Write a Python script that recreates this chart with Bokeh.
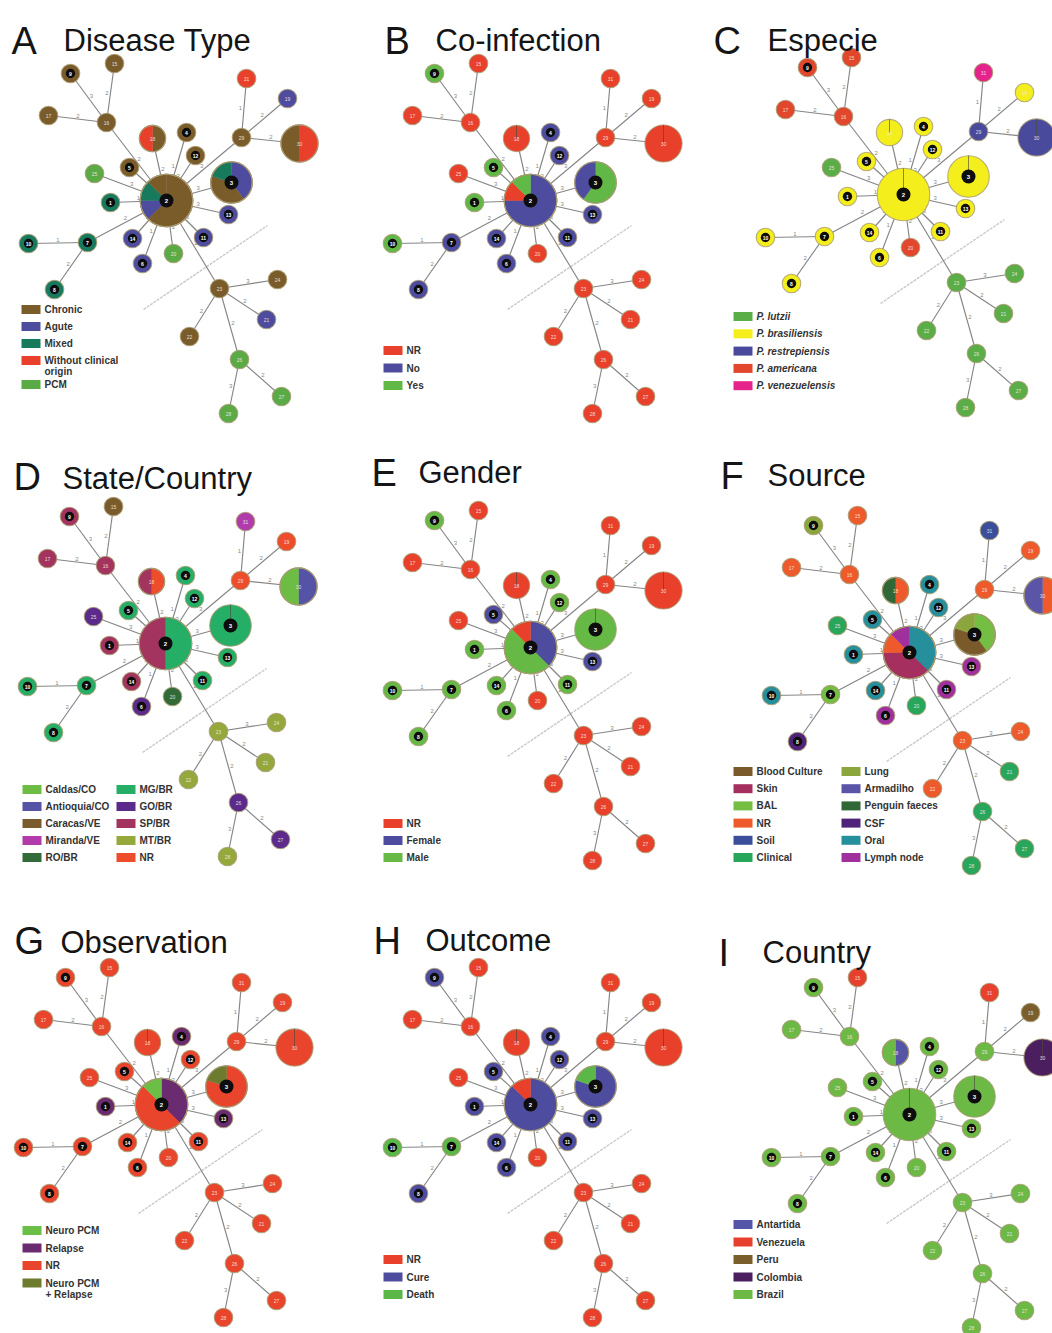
import math

from bokeh.core.properties import value
from bokeh.embed import file_html
from bokeh.models import ColumnDataSource, Range1d
from bokeh.plotting import figure
from bokeh.resources import INLINE

W, H = 1052, 1333
FONT = "Liberation Sans"

# ---------------------------------------------------------------------------
# Haplotype network shared by every panel
# ---------------------------------------------------------------------------
haplotypes = [1, 2, 3, 4, 5, 6, 7, 8, 9, 10, 11, 12, 13, 14, 15, 16,
              17, 18, 19, 20, 21, 22, 23, 24, 25, 26, 27, 28, 29, 30, 31]
# number of isolates carrying each haplotype (node area follows it)
sample_counts = [1, 8, 5, 1, 1, 1, 1, 1, 1, 1, 1, 1, 1, 1, 1, 1,
                 1, 2, 1, 1, 1, 1, 1, 1, 1, 1, 1, 1, 1, 4, 1]
# haplotypes 1-14 carry the dark centre marker
marked_haplotypes = [1, 2, 3, 4, 5, 6, 7, 8, 9, 10, 11, 12, 13, 14]

edge_from = [2, 2, 16, 16, 16, 2, 2, 2, 2, 2, 2, 2, 29, 29, 29,
             2, 2, 2, 2, 2, 2, 7, 7, 2, 23, 23, 23, 23, 26, 26]
edge_to = [3, 16, 9, 15, 17, 18, 4, 12, 5, 25, 1, 29, 31, 19, 30,
           13, 11, 14, 6, 20, 7, 10, 8, 23, 24, 21, 22, 26, 27, 28]
edge_steps = [3, 2, 3, 2, 2, 2, 1, 3, 2, 3, 1, 3, 1, 2, 2,
              3, 3, 1, 1, 2, 2, 1, 2, 2, 3, 2, 2, 2, 2, 3]

# Network layout: node offsets (px) from the central haplotype, y downwards
layout_dx = [-56, 0, 65, 20, -37, -24, -79, -112, -96, -138, 37, 29, 62, -34, -52, -60,
             -118, -14, 121, 7, 100, 23, 53, 111, -72, 73, 115, 62, 75, 133, 80]
layout_dy = [2, 0, -18, -68, -33, 63, 42, 89, -127, 43, 37, -45, 14, 38, -137, -78,
             -85, -62, -102, 53, 119, 136, 88, 79, -27, 159, 196, 213, -63, -57, -122]
divider_offsets = ((-23, 109), (101, 25))
NODE_R = 9.3

# ---------------------------------------------------------------------------
# Attributes per panel: categories, colours and per-haplotype composition
# (a string = every isolate in that category; a list = pie slices, clockwise)
# ---------------------------------------------------------------------------
disease_labels = ["Chronic", "Agute", "Mixed", "Without clinical origin", "PCM"]
disease_colors = ["#7a5c2b", "#4e4c9e", "#187a5c", "#e8402b", "#5aaa45"]
disease_nodes = [
    "Mixed", [("Chronic", 5), ("Agute", 1), ("Mixed", 1), ("Chronic", 1)],
    [("Agute", 2), ("Chronic", 2), ("Mixed", 1)], "Chronic", "Chronic", "Agute",
    "Mixed", "Mixed", "Chronic", "Mixed", "Agute", "Chronic", "Agute", "Agute",
    "Chronic", "Chronic", "Chronic", [("Chronic", 1), ("Without clinical origin", 1)],
    "Agute", "PCM", "Agute", "Chronic", "Chronic", "Chronic", "PCM", "PCM", "PCM",
    "PCM", "Chronic", [("Without clinical origin", 2), ("Chronic", 2)],
    "Without clinical origin",
]

coinf_labels = ["NR", "No", "Yes"]
coinf_colors = ["#e8402b", "#4e4c9e", "#62b846"]
coinf_nodes = [
    "Yes", [("No", 6), ("NR", 1), ("Yes", 1)], [("Yes", 3), ("No", 2)], "No", "Yes",
    "No", "No", "No", "Yes", "Yes", "No", "No", "No", "No", "NR", "NR", "NR", "NR",
    "NR", "NR", "NR", "NR", "NR", "NR", "NR", "NR", "NR", "NR", "NR", "NR", "NR",
]

species_labels = ["P. lutzii", "P. brasiliensis", "P. restrepiensis",
                  "P. americana", "P. venezuelensis"]
species_colors = ["#5aad47", "#f4ee1c", "#4a4a9c", "#e2462d", "#e5238b"]
species_nodes = [
    "P. brasiliensis", "P. brasiliensis", "P. brasiliensis", "P. brasiliensis",
    "P. brasiliensis", "P. brasiliensis", "P. brasiliensis", "P. brasiliensis",
    "P. americana", "P. brasiliensis", "P. brasiliensis", "P. brasiliensis",
    "P. brasiliensis", "P. brasiliensis", "P. americana", "P. americana",
    "P. americana", "P. brasiliensis", "P. brasiliensis", "P. americana",
    "P. lutzii", "P. lutzii", "P. lutzii", "P. lutzii", "P. lutzii", "P. lutzii",
    "P. lutzii", "P. lutzii", "P. restrepiensis", "P. restrepiensis",
    "P. venezuelensis",
]

state_labels = ["Caldas/CO", "Antioquia/CO", "Caracas/VE", "Miranda/VE", "RO/BR",
                "MG/BR", "GO/BR", "SP/BR", "MT/BR", "NR"]
state_colors = ["#6dbd45", "#5553a5", "#7a5c2c", "#b23bab", "#336b38",
                "#25ae66", "#5b2a8a", "#a3335f", "#94a83c", "#ee4d2c"]
state_nodes = [
    "SP/BR", [("MG/BR", 4), ("SP/BR", 4)], "MG/BR", "MG/BR", "MG/BR", "GO/BR",
    "MG/BR", "MG/BR", "SP/BR", "MG/BR", "MG/BR", "MG/BR", "MG/BR", "SP/BR",
    "Caracas/VE", "SP/BR", "SP/BR", [("NR", 1), ("SP/BR", 1)], "NR", "RO/BR",
    "MT/BR", "MT/BR", "MT/BR", "MT/BR", "GO/BR", "GO/BR", "GO/BR", "MT/BR", "NR",
    [("Antioquia/CO", 2), ("Caldas/CO", 2)], "Miranda/VE",
]

gender_labels = ["NR", "Female", "Male"]
gender_colors = ["#e8402b", "#4e4c9e", "#67b946"]
gender_nodes = [
    "Male", [("Female", 3), ("Male", 4), ("NR", 1)], "Male", "Male", "Female", "Male",
    "Male", "Male", "Male", "Male", "Male", "Male", "Female", "Male", "NR", "NR",
    "NR", "NR", "NR", "NR", "NR", "NR", "NR", "NR", "NR", "NR", "NR", "NR", "NR",
    "NR", "NR",
]

source_labels = ["Blood Culture", "Skin", "BAL", "NR", "Soil", "Clinical",
                 "Lung", "Armadilho", "Penguin faeces", "CSF", "Oral", "Lymph node"]
source_colors = ["#7a5a2b", "#a5305f", "#74be44", "#ee5a2c", "#3b4e9c", "#27a65c",
                 "#8aa63c", "#5a55a6", "#2f6836", "#4e2379", "#268f9c", "#a0309d"]
source_nodes = [
    "Oral", [("Oral", 3), ("Skin", 3), ("NR", 1), ("Lymph node", 1)],
    [("BAL", 2), ("Blood Culture", 2), ("Lung", 1)], "Oral", "Oral", "Lymph node",
    "BAL", "CSF", "Lung", "Oral", "Lymph node", "Oral", "Lymph node", "Oral",
    "NR", "NR", "NR", [("NR", 1), ("Penguin faeces", 1)], "NR", "Clinical",
    "Clinical", "NR", "NR", "NR", "Clinical", "Clinical", "Clinical", "Clinical",
    "NR", [("NR", 2), ("Armadilho", 2)], "Soil",
]

observation_labels = ["Neuro PCM", "Relapse", "NR", "Neuro PCM + Relapse"]
observation_colors = ["#6bbf46", "#6a2b70", "#e8452c", "#6d7b2e"]
observation_nodes = [
    "Relapse", [("Relapse", 3), ("NR", 4), ("Neuro PCM", 1)],
    [("NR", 4), ("Neuro PCM + Relapse", 1)], "Relapse", "NR", "NR", "NR", "NR",
    "NR", "NR", "NR", "NR", "Relapse", "NR", "NR", "NR", "NR", "NR", "NR", "NR",
    "NR", "NR", "NR", "NR", "NR", "NR", "NR", "NR", "NR", "NR", "NR",
]

outcome_labels = ["NR", "Cure", "Death"]
outcome_colors = ["#e8402b", "#4e4c9e", "#5bb848"]
outcome_nodes = [
    "Cure", [("Cure", 7), ("NR", 1)], [("Cure", 4), ("Death", 1)], "Cure", "Cure",
    "Cure", "Death", "Cure", "Cure", "Death", "Cure", "Cure", "Cure", "Cure",
    "NR", "NR", "NR", "NR", "NR", "NR", "NR", "NR", "NR", "NR", "NR", "NR", "NR",
    "NR", "NR", "NR", "NR",
]

country_labels = ["Antartida", "Venezuela", "Peru", "Colombia", "Brazil"]
country_colors = ["#5555a8", "#e8402e", "#7a5f2c", "#4b1f5f", "#6cb946"]
country_nodes = [
    "Brazil", "Brazil", "Brazil", "Brazil", "Brazil", "Brazil", "Brazil", "Brazil",
    "Brazil", "Brazil", "Brazil", "Brazil", "Brazil", "Brazil", "Venezuela",
    "Brazil", "Brazil", [("Antartida", 1), ("Brazil", 1)], "Peru", "Brazil",
    "Brazil", "Brazil", "Brazil", "Brazil", "Brazil", "Brazil", "Brazil", "Brazil",
    "Brazil", "Colombia", "Venezuela",
]

# long legend entries broken over two lines
legend_wrap = {
    "Without clinical origin": ["Without clinical", " origin"],
    "Neuro PCM + Relapse": ["Neuro PCM", " + Relapse"],
}

# Page placement of each panel
panels = [
    dict(letter="A", title="Disease Type", labels=disease_labels, colors=disease_colors,
         nodes=disease_nodes, hub=(166, 200), letter_at=(11, 40), title_at=(63, 40),
         legend_at=(21, 309), legend_rows=5, step=17, italic=False),
    dict(letter="B", title="Co-infection", labels=coinf_labels, colors=coinf_colors,
         nodes=coinf_nodes, hub=(530, 200), letter_at=(384, 40), title_at=(435, 40),
         legend_at=(383, 350), legend_rows=3, step=17.5, italic=False),
    dict(letter="C", title="Especie", labels=species_labels, colors=species_colors,
         nodes=species_nodes, hub=(903, 194), letter_at=(713, 40), title_at=(767, 40),
         legend_at=(733, 316), legend_rows=5, step=17.3, italic=True),
    dict(letter="D", title="State/Country", labels=state_labels, colors=state_colors,
         nodes=state_nodes, hub=(165, 643), letter_at=(13, 476), title_at=(62, 478),
         legend_at=(22, 789), legend_rows=5, step=17, col_gap=94, italic=False),
    dict(letter="E", title="Gender", labels=gender_labels, colors=gender_colors,
         nodes=gender_nodes, hub=(530, 647), letter_at=(371, 472), title_at=(418, 472),
         legend_at=(383, 823), legend_rows=3, step=17, italic=False),
    dict(letter="F", title="Source", labels=source_labels, colors=source_colors,
         nodes=source_nodes, hub=(909, 652), letter_at=(720, 475), title_at=(767, 475),
         legend_at=(733, 771), legend_rows=6, step=17.2, col_gap=108, italic=False),
    dict(letter="G", title="Observation", labels=observation_labels,
         colors=observation_colors, nodes=observation_nodes, hub=(161, 1104),
         letter_at=(14, 940), title_at=(60, 942), legend_at=(22, 1230),
         legend_rows=4, step=17.5, italic=False),
    dict(letter="H", title="Outcome", labels=outcome_labels, colors=outcome_colors,
         nodes=outcome_nodes, hub=(530, 1104), letter_at=(373, 940), title_at=(425, 940),
         legend_at=(383, 1259), legend_rows=3, step=17.5, italic=False),
    dict(letter="I", title="Country", labels=country_labels, colors=country_colors,
         nodes=country_nodes, hub=(909, 1114), letter_at=(718, 952), title_at=(762, 952),
         legend_at=(733, 1224), legend_rows=5, step=17.5, italic=False),
]


def slices(entry, n):
    return [(entry, n)] if isinstance(entry, str) else list(entry)


def fy(y_page):
    return H - y_page


segs = dict(x0=[], y0=[], x1=[], y1=[])
edge_text = dict(x=[], y=[], t=[])
dividers = dict(x0=[], y0=[], x1=[], y1=[])
whole = dict(x=[], y=[], r=[], c=[])
pies = dict(x=[], y=[], r=[], s=[], e=[], c=[])
spokes = dict(x0=[], y0=[], x1=[], y1=[])
centres = dict(x=[], y=[], r=[])
dark_lab = dict(x=[], y=[], t=[], fs=[])
light_lab = dict(x=[], y=[], t=[])
boxes = dict(x=[], y=[], c=[])
leg_text = dict(x=[], y=[], t=[])
leg_text_it = dict(x=[], y=[], t=[])

for P in panels:
    hx, hy = P["hub"]
    X = {h: hx + dx for h, dx in zip(haplotypes, layout_dx)}
    Y = {h: fy(hy + dy) for h, dy in zip(haplotypes, layout_dy)}
    cmap = dict(zip(P["labels"], P["colors"]))

    (ax, ay), (bx, by) = divider_offsets
    dividers["x0"].append(hx + ax)
    dividers["y0"].append(fy(hy + ay))
    dividers["x1"].append(hx + bx)
    dividers["y1"].append(fy(hy + by))

    for a, b, m in zip(edge_from, edge_to, edge_steps):
        segs["x0"].append(X[a]); segs["y0"].append(Y[a])
        segs["x1"].append(X[b]); segs["y1"].append(Y[b])
        dx, dy = X[b] - X[a], Y[b] - Y[a]
        L = math.hypot(dx, dy)
        nx, ny = -dy / L, dx / L
        if ny < 0:
            nx, ny = -nx, -ny
        edge_text["x"].append((X[a] + X[b]) / 2 + 3.5 * nx)
        edge_text["y"].append((Y[a] + Y[b]) / 2 + 3.5 * ny)
        edge_text["t"].append(str(m))

    for h, n, entry in zip(haplotypes, sample_counts, P["nodes"]):
        r = NODE_R * math.sqrt(n)
        parts = slices(entry, n)
        if len(parts) == 1:
            whole["x"].append(X[h]); whole["y"].append(Y[h])
            whole["r"].append(r); whole["c"].append(cmap[parts[0][0]])
            if n > 1:
                spokes["x0"].append(X[h]); spokes["y0"].append(Y[h])
                spokes["x1"].append(X[h]); spokes["y1"].append(Y[h] + r)
        else:
            total = sum(k for _, k in parts)
            acc = 0
            for cat, k in parts:
                a0, a1 = acc / total, (acc + k) / total
                acc += k
                pies["x"].append(X[h]); pies["y"].append(Y[h]); pies["r"].append(r)
                pies["s"].append(math.pi / 2 - 2 * math.pi * a1)
                pies["e"].append(math.pi / 2 - 2 * math.pi * a0)
                pies["c"].append(cmap[cat])
        if h in marked_haplotypes:
            big = n >= 5
            centres["x"].append(X[h]); centres["y"].append(Y[h])
            centres["r"].append(7.0 if big else 4.7)
            dark_lab["x"].append(X[h]); dark_lab["y"].append(Y[h])
            dark_lab["t"].append(str(h)); dark_lab["fs"].append("6px" if big else "5px")
        else:
            light_lab["x"].append(X[h]); light_lab["y"].append(Y[h])
            light_lab["t"].append(str(h))

    # legend
    lx, ly = P["legend_at"]
    rows = P["legend_rows"]
    col_gap = P.get("col_gap", 0)
    extra = [0.0] * 2
    for i, lab in enumerate(P["labels"]):
        col, row = divmod(i, rows)
        yc = ly + row * P["step"] + extra[col]
        x0 = lx + col * col_gap
        boxes["x"].append(x0 + 9.5); boxes["y"].append(fy(yc))
        boxes["c"].append(P["colors"][i])
        lines = legend_wrap.get(lab, [lab])
        target = leg_text_it if P["italic"] else leg_text
        for j, line in enumerate(lines):
            target["x"].append(x0 + 23); target["y"].append(fy(yc + 11 * j))
            target["t"].append(line)
        extra[col] += 7 * (len(lines) - 1)

p = figure(width=W, height=H, x_range=Range1d(0, W), y_range=Range1d(0, H),
           output_backend="svg", toolbar_location=None,
           x_axis_location=None, y_axis_location=None,
           min_border=0, min_border_left=0, min_border_right=0,
           min_border_top=0, min_border_bottom=0)
p.grid.visible = False
p.outline_line_color = None
p.background_fill_color = "white"
p.border_fill_color = "white"

p.segment("x0", "y0", "x1", "y1", source=ColumnDataSource(dividers),
          line_color="#c9c9c9", line_width=1.4, line_dash="3 1")
p.segment("x0", "y0", "x1", "y1", source=ColumnDataSource(segs),
          line_color="#858585", line_width=1.15)
p.text("x", "y", text="t", source=ColumnDataSource(edge_text),
       text_font=value(FONT), text_font_size="6px", text_color="#8a8a8a",
       text_align="center", text_baseline="middle")

p.circle("x", "y", radius="r", source=ColumnDataSource(whole),
         fill_color="c", line_color="#a89a70", line_alpha=0.8, line_width=1.1)
p.wedge("x", "y", radius="r", start_angle="s", end_angle="e", direction="anticlock",
        source=ColumnDataSource(pies), fill_color="c", line_color="c", line_width=0.4)
pie_rings = dict(x=pies["x"], y=pies["y"], r=pies["r"])
p.circle("x", "y", radius="r", source=ColumnDataSource(pie_rings),
         fill_color=None, line_color="#a89a70", line_alpha=0.8, line_width=1.1)
p.segment("x0", "y0", "x1", "y1", source=ColumnDataSource(spokes),
          line_color="#4a4a3a", line_width=0.8, line_alpha=0.8)
p.circle("x", "y", radius="r", source=ColumnDataSource(centres),
         fill_color="#0d0d0d", line_color=None)
p.text("x", "y", text="t", source=ColumnDataSource(dark_lab),
       text_font=value(FONT), text_font_size="fs", text_font_style="bold",
       text_color="white", text_align="center", text_baseline="middle")
p.text("x", "y", text="t", source=ColumnDataSource(light_lab),
       text_font=value(FONT), text_font_size="5px", text_color="#f6ebe2",
       text_alpha=0.9, text_align="center", text_baseline="middle")

p.rect("x", "y", width=19, height=9, source=ColumnDataSource(boxes),
       fill_color="c", line_color=None)
p.text("x", "y", text="t", source=ColumnDataSource(leg_text),
       text_font=value(FONT), text_font_size="10px", text_font_style="bold",
       text_color="#333333", text_align="left", text_baseline="middle")
p.text("x", "y", text="t", source=ColumnDataSource(leg_text_it),
       text_font=value(FONT), text_font_size="10px", text_font_style="bold italic",
       text_color="#333333", text_align="left", text_baseline="middle")

heads = dict(x=[P["letter_at"][0] for P in panels],
             y=[fy(P["letter_at"][1]) for P in panels],
             t=[P["letter"] for P in panels])
titles = dict(x=[P["title_at"][0] for P in panels],
              y=[fy(P["title_at"][1]) for P in panels],
              t=[P["title"] for P in panels])
p.text("x", "y", text="t", source=ColumnDataSource(heads),
       text_font=value(FONT), text_font_size="38px", text_color="#151515",
       text_align="left", text_baseline="alphabetic")
p.text("x", "y", text="t", source=ColumnDataSource(titles),
       text_font=value(FONT), text_font_size="31px", text_color="#151515",
       text_align="left", text_baseline="alphabetic")

open("out.html", "w").write(file_html(p, INLINE))
